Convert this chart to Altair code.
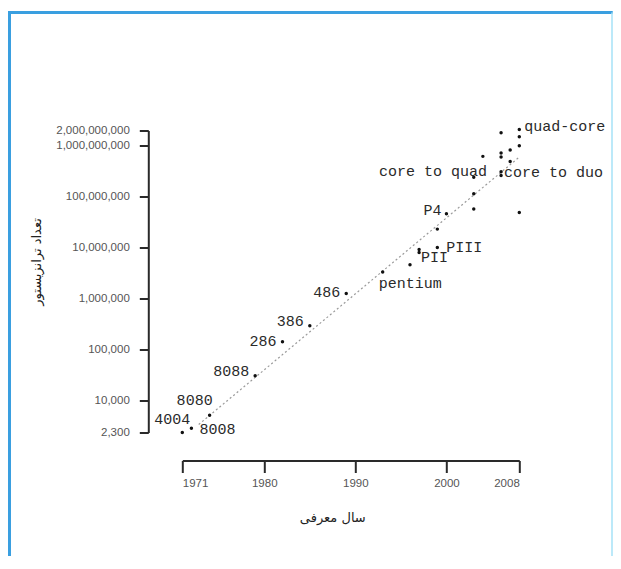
import altair as alt
import pandas as pd

# ---- data ----
years = [1971, 1972, 1974, 1979, 1982, 1985, 1989, 1993, 1996, 1997, 1997, 1999, 1999,
         2000, 2003, 2003, 2003, 2004, 2006, 2006, 2006, 2007, 2007, 2006, 2006,
         2008, 2008, 2008, 2008]
counts = [2300, 2800, 5000, 30000, 140000, 290000, 1250000, 3300000, 4600000, 9100000,
          8000000, 10000000, 23000000, 46000000, 57000000, 114000000, 240000000,
          620000000, 1800000000, 720000000, 600000000, 830000000, 490000000,
          310000000, 260000000, 2100000000, 1500000000, 1000000000, 49000000]

label_names = ["4004", "8008", "8080", "8088", "286", "386", "486", "pentium",
               "PII", "PIII", "P4", "core to quad", "core to duo", "quad-core"]
label_years = [1971, 1972, 1974, 1979, 1982, 1985, 1989, 1993, 1997, 1999, 2000,
               2006, 2006, 2008]
label_counts = [2300, 2800, 5000, 30000, 140000, 290000, 1250000, 3300000, 8000000,
                10000000, 46000000, 600000000, 310000000, 2100000000]

trend_years = [1972.8, 2008]
trend_counts = [3300, 600000000]

x_ticks = [1971, 1980, 1990, 2000, 2008]
y_ticks = [2300, 10000, 100000, 1000000, 10000000, 100000000, 1000000000, 2000000000]

x_title = "سال معرفی"
y_title = "تعداد ترانزیستور"

# ---- label placement (style, not data) ----
label_style = {
    "4004": ("center", -10, -14),
    "8008": ("left", 8, 1),
    "8080": ("center", -15, -15),
    "8088": ("right", -6, -5),
    "286": ("right", -6, -1),
    "386": ("right", -6, -5),
    "486": ("right", -6, -1),
    "pentium": ("left", -4, 11),
    "PII": ("left", 2, 5),
    "PIII": ("left", 9, -1),
    "P4": ("right", -5, -4),
    "core to quad": ("right", -14, 14),
    "core to duo": ("left", 3, 0),
    "quad-core": ("left", 5, -3),
}

W, H = 337, 302
PAD_L, PAD_T = 174.3, 122.5
SVG_W, SVG_H = 605, 548

pts = pd.DataFrame({"year": years, "count": counts})
lbl = pd.DataFrame({"name": label_names, "year": label_years, "count": label_counts})
trend = pd.DataFrame({"year": trend_years, "count": trend_counts})

xscale = alt.Scale(domain=[1971, 2008], nice=False, zero=False)
yscale = alt.Scale(type="log", domain=[2300, 2000000000], nice=False)

xaxis = alt.Axis(values=x_ticks, format="d", title=x_title, offset=28, grid=False,
                 tickSize=12, labelPadding=5, titlePadding=22, titleX=150,
                 titleAlign="center")
yaxis = alt.Axis(values=y_ticks, format=",d", title=y_title, offset=34, grid=False,
                 tickSize=9, labelPadding=10, titlePadding=12, titleY=131)

trend_line = alt.Chart(trend).mark_line(
    color="#9a9a9a", strokeDash=[2, 2.5], strokeWidth=1.2
).encode(
    x=alt.X("year:Q", scale=xscale, axis=xaxis),
    y=alt.Y("count:Q", scale=yscale, axis=yaxis),
)

points = alt.Chart(pts).mark_circle(color="#111", size=12, opacity=1).encode(
    x=alt.X("year:Q", scale=xscale),
    y=alt.Y("count:Q", scale=yscale),
)

label_layers = []
for name in label_names:
    a, dx, dy = label_style[name]
    label_layers.append(
        alt.Chart(lbl).transform_filter(alt.datum.name == name).mark_text(
            align=a, dx=dx, dy=dy, baseline="middle", font="Liberation Mono",
            fontSize=15, color="#2a2a2a"
        ).encode(
            x=alt.X("year:Q", scale=xscale),
            y=alt.Y("count:Q", scale=yscale),
            text="name:N",
        )
    )

# decorative frame around the picture
RIGHT = SVG_W - PAD_L - 1
one = pd.DataFrame({"k": [0]})
frame_left = alt.Chart(one).mark_rule(color="#3a9fe0", strokeWidth=3).encode(
    x=alt.value(-172.8), y=alt.value(-119.5), y2=alt.value(SVG_H - PAD_T))
frame_top = alt.Chart(one).mark_rule(color="#3a9fe0", strokeWidth=3).encode(
    x=alt.value(-174.3), x2=alt.value(RIGHT + 0.75), y=alt.value(-118))
frame_right = alt.Chart(one).mark_rule(color="#a6e2f7", strokeWidth=1.5).encode(
    x=alt.value(RIGHT), y=alt.value(-118), y2=alt.value(SVG_H - PAD_T))

chart = alt.layer(
    frame_left, frame_top, frame_right, trend_line, points, *label_layers
).properties(
    width=W, height=H,
    autosize=alt.AutoSizeParams(type="none"),
    padding={"left": PAD_L, "top": PAD_T,
             "right": SVG_W - PAD_L - W, "bottom": SVG_H - PAD_T - H},
    background="white",
).configure_view(stroke=None).configure_axis(
    domainColor="#2a2a2a", domainWidth=2, tickColor="#2a2a2a", tickWidth=2,
    labelFont="Liberation Sans", labelFontSize=11.5, labelColor="#555",
    titleFont="DejaVu Sans", titleFontSize=13, titleFontWeight="normal",
    titleColor="#222",
)

chart.save("out.html", embed_options={"renderer": "svg", "actions": False})
